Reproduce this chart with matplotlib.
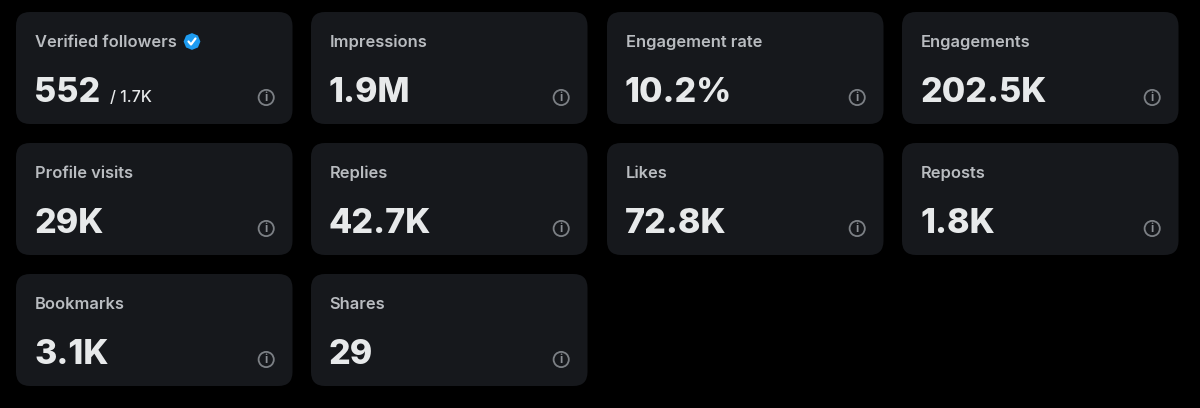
import matplotlib.pyplot as plt
from matplotlib.patches import FancyBboxPatch, Circle, RegularPolygon

# card contents, row by row
labels = ['Verified followers', 'Impressions', 'Engagement rate', 'Engagements',
          'Profile visits', 'Replies', 'Likes', 'Reposts',
          'Bookmarks', 'Shares']
values = ['552', '1.9M', '10.2%', '202.5K',
          '29K', '42.7K', '72.8K', '1.8K',
          '3.1K', '29']

card_x = [16, 311, 607, 902]
card_y = [12, 143, 274]
card_w = 276.5
card_h = 112
radius = 14

plt.rcParams['font.family'] = ['Inter', 'DejaVu Sans']

fig = plt.figure(figsize=(12, 4.08), dpi=100, facecolor='#000000')
ax = fig.add_axes([0, 0, 1, 1])
ax.set_xlim(0, 1200)
ax.set_ylim(408, 0)
ax.axis('off')

for i, (label, value) in enumerate(zip(labels, values)):
    x = card_x[i % 4]
    y = card_y[i // 4]
    ax.add_patch(FancyBboxPatch((x + radius, y + radius), card_w - 2 * radius, card_h - 2 * radius,
                                boxstyle=f'round,pad={radius},rounding_size={radius}',
                                fc='#16181c', ec='none'))
    ax.text(x + 18.7, y + 35, label, color='#b9bcc0', fontsize=11.85, fontweight='semibold', va='baseline')
    ax.text(x + 18, y + 90, value, color='#e7e9ea', fontsize=24.5, fontweight='heavy', va='baseline')

    # info icon
    cx, cy = x + 250.2, y + 85.5
    ax.add_patch(Circle((cx, cy), 7.6, fc='none', ec='#7c8085', lw=1.3))
    ax.text(cx, cy + 0.5, 'i', color='#8b8f94', fontsize=8.5, fontweight='bold', ha='center', va='center')

# extras on the first card
ax.text(110, 102, '/ 1.7K', color='#e7e9ea', fontsize=11.6, fontweight='medium', va='baseline')
ax.add_patch(RegularPolygon((192, 41.5), 8, radius=8.4, fc='#1d9bf0', ec='none'))
ax.plot([188.5, 191, 195.5], [41.5, 44.5, 38.5], color='white', lw=1.6, solid_capstyle='round')

fig.savefig('out.png', dpi=100, facecolor=fig.get_facecolor())
